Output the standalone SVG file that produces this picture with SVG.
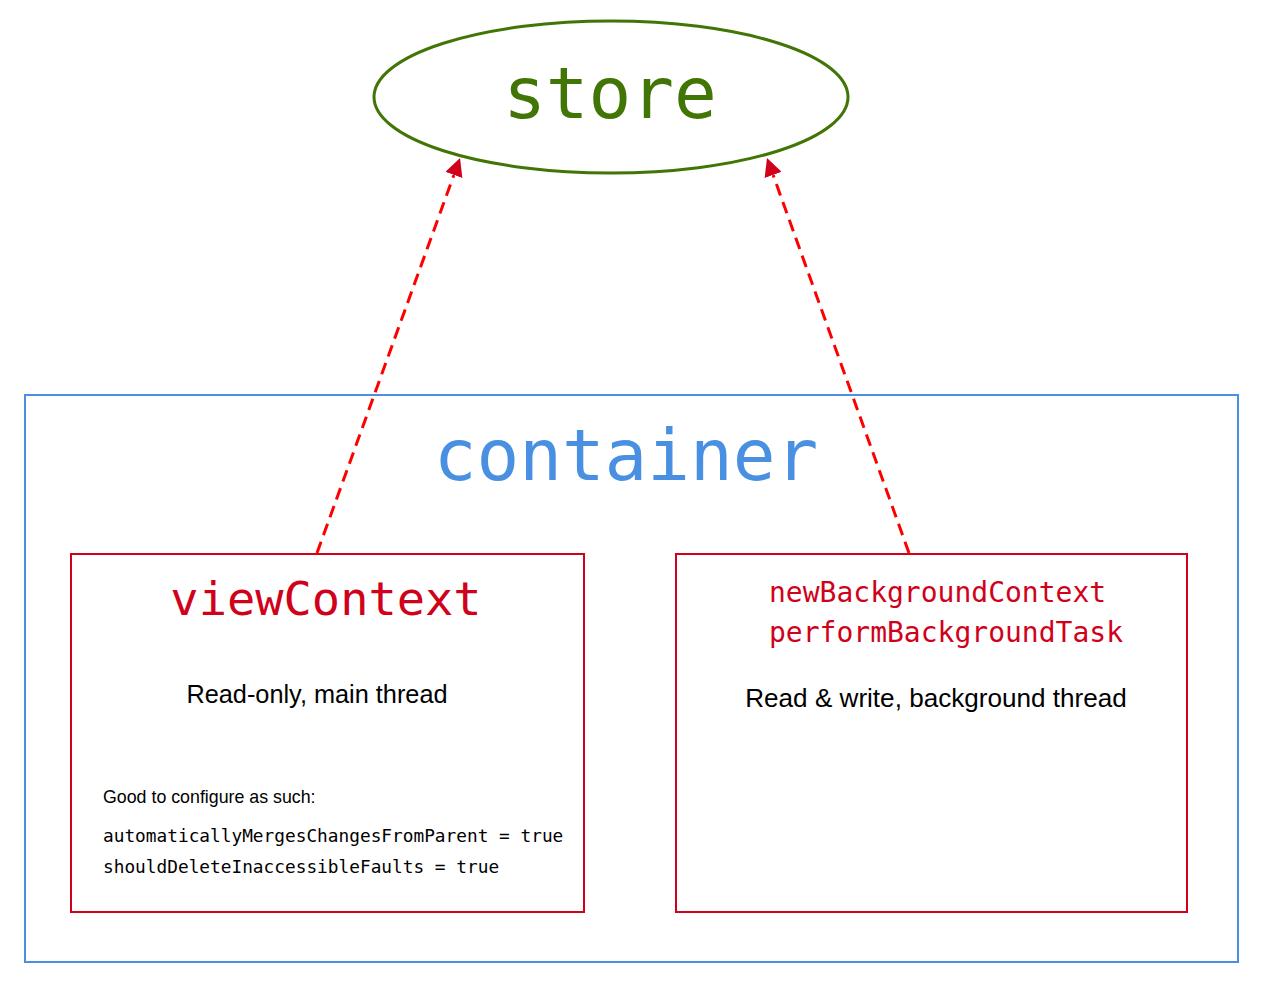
<svg xmlns="http://www.w3.org/2000/svg" width="1262" height="986" viewBox="0 0 1262 986">
<style>
.mono{font-family:"DejaVu Sans Mono","Liberation Mono",monospace}
.sans{font-family:"Liberation Sans",Arial,sans-serif;fill:#000}
.red{fill:#d0021b}
.box{fill:none;stroke:#d0021b;stroke-width:2}
.conn{fill:none;stroke:#ff0000;stroke-width:3;stroke-dasharray:12 7}
</style>
<defs>
<marker id="ah" viewBox="0 0 18 18" refX="0" refY="9" markerWidth="18" markerHeight="18" markerUnits="userSpaceOnUse" orient="auto">
<path d="M0,0 L18,9 L0,18 z" fill="#d0021b"/>
</marker>
</defs>
<rect width="1262" height="986" fill="#fff"/>
<g id="container">
<rect x="25" y="395" width="1213" height="567" fill="none" stroke="#4a90e2" stroke-width="2"/>
<text x="626" y="480" class="mono" font-size="71" fill="#4a90e2" text-anchor="middle">container</text>
</g>
<g id="store">
<ellipse cx="611" cy="97" rx="237" ry="76" fill="#fff" stroke="#417505" stroke-width="3"/>
<text x="610" y="118" class="mono" font-size="71" fill="#417505" text-anchor="middle">store</text>
</g>
<g id="viewContext">
<rect x="71" y="554" width="513" height="358" class="box" fill="#fff"/>
<text x="326" y="615" class="mono red" font-size="47" text-anchor="middle">viewContext</text>
<text x="317" y="703" class="sans" font-size="25.3" text-anchor="middle">Read-only, main thread</text>
<text x="103" y="803" class="sans" font-size="17.8">Good to configure as such:</text>
<text x="103" y="842" class="mono" font-size="17.8" fill="#000">automaticallyMergesChangesFromParent = true</text>
<text x="103" y="873" class="mono" font-size="17.8" fill="#000">shouldDeleteInaccessibleFaults = true</text>
</g>
<g id="backgroundContext">
<rect x="676" y="554" width="511" height="358" class="box" fill="#fff"/>
<text x="769" y="602" class="mono red" font-size="28">newBackgroundContext</text>
<text x="769" y="642" class="mono red" font-size="28">performBackgroundTask</text>
<text x="936" y="707" class="sans" font-size="26.1" text-anchor="middle">Read &amp; write, background thread</text>
</g>
<g id="connectors">
<line x1="317" y1="553" x2="453.9" y2="174.9" class="conn" marker-end="url(#ah)"/>
<line x1="909" y1="553" x2="773.1" y2="174.9" class="conn" marker-end="url(#ah)"/>
</g>
</svg>
